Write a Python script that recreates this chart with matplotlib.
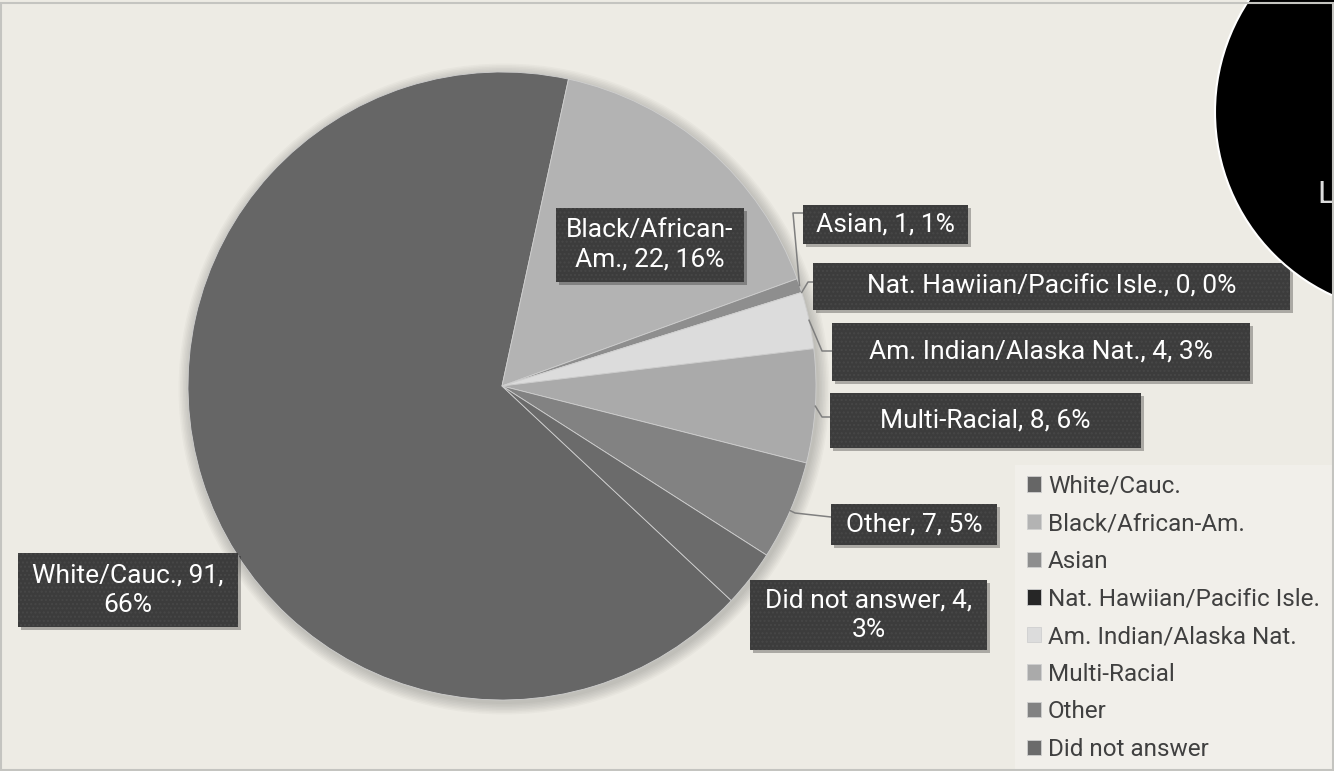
import numpy as np
import matplotlib.pyplot as plt
from matplotlib.patches import Circle, Rectangle

# ---------------- Data ----------------
categories = ["White/Cauc.", "Black/African-Am.", "Asian", "Nat. Hawiian/Pacific Isle.",
              "Am. Indian/Alaska Nat.", "Multi-Racial", "Other", "Did not answer"]
counts = [91, 22, 1, 0, 4, 8, 7, 4]
colors = ["#666666", "#b3b3b3", "#8e8e8e", "#262626",
          "#dcdcdc", "#aaaaaa", "#828282", "#6b6b6b"]

W, H = 1334, 771
plt.rcParams['font.family'] = ['Roboto', 'DejaVu Sans']

fig = plt.figure(figsize=(W / 100, H / 100), dpi=100)
fig.patch.set_facecolor("#edebe4")
ax = fig.add_axes([0, 0, 1, 1])


def Y(py):
    # pixel row (from top) -> data y (from bottom)
    return H - py


cx, cy, r = 502, Y(386), 314

# soft shadow behind the pie
for k in range(8):
    ax.add_patch(Circle((cx + 2, cy - 3), r + 1 + k * 1.5, fc="black", ec="none",
                        alpha=0.025, zorder=0))

wedges, _ = ax.pie(counts, colors=colors, startangle=90 - 133.1, counterclock=False,
                   center=(cx, cy), radius=r, normalize=True,
                   wedgeprops=dict(linewidth=0.6, edgecolor="#cfcfcf"))

# ---------------- Data labels ----------------
total = sum(counts)
labels = []
for name, c in zip(categories, counts):
    labels.append(f"{name}, {c}, {round(c / total * 100)}%")
labels[1] = labels[1].replace("-Am.,", "-\nAm.,")
labels[0] = ",\n".join(labels[0].rsplit(", ", 1))
labels[7] = ",\n".join(labels[7].rsplit(", ", 1))

# label boxes (x0, y0, x1, y1) in pixels from top-left
boxes = [(18, 553, 238, 627), (556, 208, 744, 282), (803, 205, 968, 244),
         (813, 263, 1290, 310), (832, 323, 1250, 381), (830, 393, 1141, 448),
         (831, 504, 997, 545), (750, 580, 987, 650)]

for lab, (x0, y0, x1, y1) in zip(labels, boxes):
    ax.add_patch(Rectangle((x0 + 3, Y(y1) - 3), x1 - x0, y1 - y0, fc="black",
                           ec="none", alpha=0.28, zorder=4))
    ax.add_patch(Rectangle((x0, Y(y1)), x1 - x0, y1 - y0, fc="#3c3c3c",
                           ec="#474747", lw=0, hatch="....", zorder=5))
    ax.text((x0 + x1) / 2, Y((y0 + y1) / 2), lab, color="white", ha="center",
            va="center", fontsize=19, linespacing=1.3, zorder=6)

# leader lines: from wedge edge -> elbow -> label box
leaders = {2: [(793, 213), (803, 213)],
           3: [(808, 282), (813, 282)],
           4: [(822, 351), (832, 351)],
           5: [(822, 417), (830, 417)],
           6: [(795, 513), (831, 517)]}
for i, pts in leaders.items():
    w = wedges[i]
    th = np.deg2rad((w.theta1 + w.theta2) / 2)
    xs = [cx + r * np.cos(th)] + [p[0] for p in pts]
    ys = [cy + r * np.sin(th)] + [Y(p[1]) for p in pts]
    ax.plot(xs, ys, color="#7f7f7f", lw=1.1, zorder=4)

# ---------------- Legend ----------------
ax.add_patch(Rectangle((1015, 0), W - 1015, Y(465), fc="#f1efea", ec="none", zorder=1))
leg = ax.legend(wedges, categories, loc="upper left", bbox_to_anchor=(1017 / W, 1 - 465 / H),
                frameon=False, fontsize=17.5, handlelength=0.6, handleheight=0.6,
                handletextpad=0.28, labelspacing=0.6, borderaxespad=0)
for t in leg.get_texts():
    t.set_color("#404040")

# decorative black circle at top right
ax.add_patch(Circle((1417, Y(112)), 202, fc="black", ec="white", lw=1.5, zorder=6))
ax.text(1317, Y(203), "L", color="#dddddd", fontsize=23, ha="left", va="baseline", zorder=7)

# outer frame
ax.add_patch(Rectangle((1, 1), W - 2, H - 4, fill=False, ec="#c4c4c0", lw=1.5, zorder=8))

ax.set_xlim(0, W)
ax.set_ylim(0, H)
ax.set_aspect("auto")
ax.axis("off")

fig.savefig("out.png", dpi=100, facecolor=fig.get_facecolor())
